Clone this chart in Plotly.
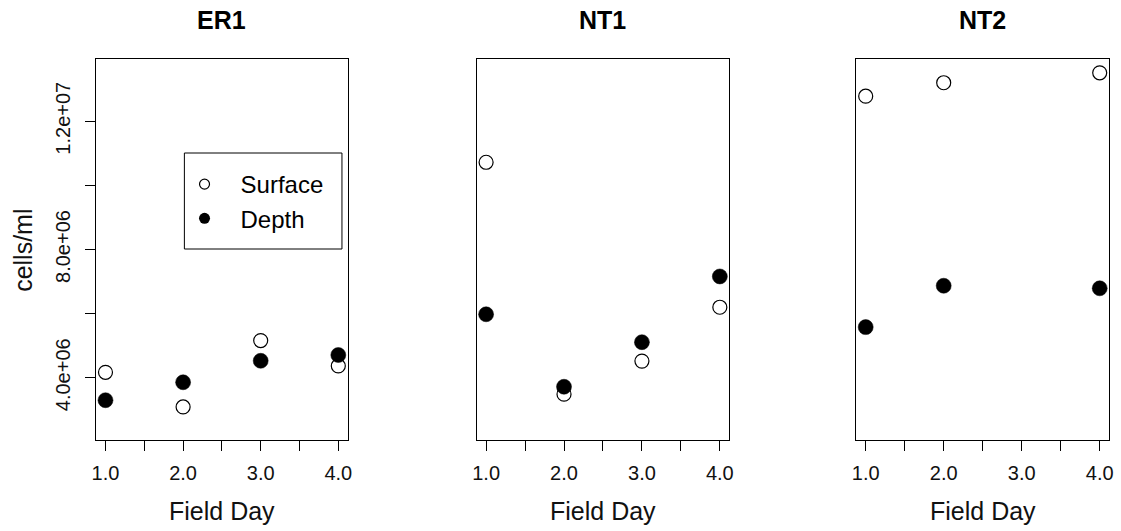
import plotly.graph_objects as go

# ---- data ----
panels = ["ER1", "NT1", "NT2"]
days_er1 = [1, 2, 3, 4]
er1_surface = [4.17e6, 3.09e6, 5.16e6, 4.37e6]
er1_depth = [3.30e6, 3.86e6, 4.53e6, 4.71e6]
days_nt1 = [1, 2, 3, 4]
nt1_surface = [10.72e6, 3.49e6, 4.52e6, 6.20e6]
nt1_depth = [5.98e6, 3.72e6, 5.11e6, 7.16e6]
days_nt2 = [1, 2, 4]
nt2_surface = [12.78e6, 13.20e6, 13.51e6]
nt2_depth = [5.58e6, 6.87e6, 6.79e6]

x_tickvals = [1, 1.5, 2, 2.5, 3, 3.5, 4]
x_ticktext = ["1.0", "", "2.0", "", "3.0", "", "4.0"]
y_tickvals = [4e6, 6e6, 8e6, 10e6, 12e6]
y_ticktext = ["4.0e+06", "", "8.0e+06", "", "1.2e+07"]

W, H = 1121, 531
FONT = "Liberation Sans, Arial, sans-serif"

data = [
    (days_er1, er1_surface, er1_depth),
    (days_nt1, nt1_surface, nt1_depth),
    (days_nt2, nt2_surface, nt2_depth),
]

# panel frames in pixels -> paper
xdom_px = [(92, 345.7), (476, 730.7), (859, 1114)]
ydom = [(H - 440) / H, (H - 59) / H]

fig = go.Figure()
for i, (d, s, dp) in enumerate(data):
    ax = "" if i == 0 else str(i + 1)
    fig.add_trace(go.Scatter(
        x=d, y=s, mode="markers", showlegend=False,
        xaxis="x" + ax, yaxis="y" + ax,
        marker=dict(symbol="circle-open", size=14, color="black", line=dict(width=1.2)),
    ))
    fig.add_trace(go.Scatter(
        x=d, y=dp, mode="markers", showlegend=False,
        xaxis="x" + ax, yaxis="y" + ax,
        marker=dict(symbol="circle", size=15, color="black", line=dict(width=0.5, color="black")),
    ))

# legend-only entries
fig.add_trace(go.Scatter(x=[None], y=[None], mode="markers", name="Surface",
                         marker=dict(symbol="circle-open", size=10, color="black", line=dict(width=1.2))))
fig.add_trace(go.Scatter(x=[None], y=[None], mode="markers", name="Depth",
                         marker=dict(symbol="circle", size=11, color="black")))

layout = dict(
    width=W, height=H,
    margin=dict(l=0, r=0, t=0, b=0),
    paper_bgcolor="white", plot_bgcolor="white",
    font=dict(family=FONT, color="black"),
    showlegend=True,
    legend=dict(x=165 / W, y=(H - 162) / H, xanchor="left", yanchor="top",
                bgcolor="rgba(0,0,0,0)", borderwidth=0, itemwidth=62,
                font=dict(size=24, family=FONT, color="black")),
)

annotations = []
for i in range(3):
    ax = "" if i == 0 else str(i + 1)
    x0, x1 = xdom_px[i]
    layout["xaxis" + ax] = dict(
        domain=[x0 / W, x1 / W], range=[0.88, 4.12], anchor="y" + ax,
        tickmode="array", tickvals=x_tickvals, ticktext=x_ticktext,
        ticks="outside", ticklen=10, tickwidth=1, tickcolor="black",
        ticklabelstandoff=5,
        showline=True, linecolor="black", linewidth=1, mirror=True,
        showgrid=False, zeroline=False,
        tickfont=dict(size=20, family=FONT, color="#111"),
    )
    yax = dict(
        domain=ydom, range=[2.06e6, 13.94e6], anchor="x" + ax,
        showline=True, linecolor="black", linewidth=1, mirror=True,
        showgrid=False, zeroline=False,
    )
    if i == 0:
        yax.update(tickmode="array", tickvals=y_tickvals, ticktext=y_ticktext,
                   ticks="outside", ticklen=10, tickwidth=1, tickcolor="black",
                   tickangle=-90, ticklabelstandoff=7,
                   tickfont=dict(size=20, family=FONT, color="#111"))
    else:
        yax.update(showticklabels=False, ticks="")
    layout["yaxis" + ax] = yax
    cx = (x0 + x1) / 2 / W
    annotations.append(dict(text="<b>%s</b>" % panels[i], x=cx, y=(H - 20) / H,
                            xref="paper", yref="paper", showarrow=False,
                            xanchor="center", yanchor="middle",
                            font=dict(size=25, family=FONT, color="black")))
    annotations.append(dict(text="Field Day", x=cx, y=(H - 511) / H,
                            xref="paper", yref="paper", showarrow=False,
                            xanchor="center", yanchor="middle",
                            font=dict(size=25, family=FONT, color="#111")))

annotations.append(dict(text="cells/ml", x=18 / W, y=(H - 250) / H, textangle=-90,
                        xref="paper", yref="paper", showarrow=False,
                        xanchor="center", yanchor="middle",
                        font=dict(size=25, family=FONT, color="#111")))
layout["annotations"] = annotations
layout["shapes"] = [dict(type="rect", xref="paper", yref="paper",
                         x0=181 / W, x1=340 / W, y0=(H - 249) / H, y1=(H - 153) / H,
                         line=dict(color="black", width=1), fillcolor="rgba(0,0,0,0)")]

fig.update_layout(**layout)
fig.write_html("out.html")
